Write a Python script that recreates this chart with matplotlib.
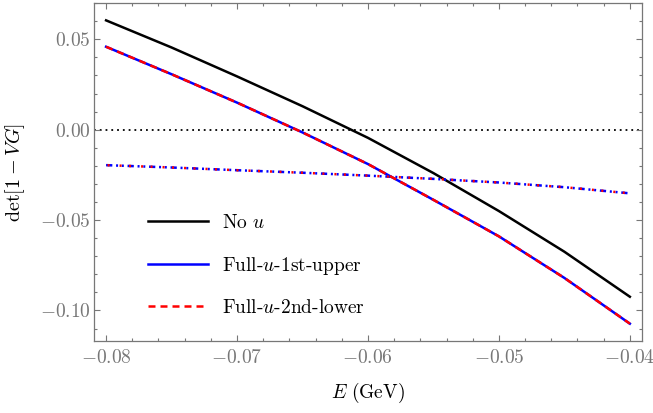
import matplotlib
matplotlib.use("Agg")
import matplotlib.pyplot as plt
from matplotlib.ticker import MultipleLocator, FuncFormatter

# ---- data ----
E = [-0.080, -0.075, -0.070, -0.065, -0.060, -0.055, -0.050, -0.045, -0.040]
no_u = [0.0605, 0.0455, 0.0295, 0.0130, -0.0045, -0.0240, -0.0450, -0.0675, -0.0924]
full_1st_upper = [0.0459, 0.0307, 0.0150, -0.0015, -0.0190, -0.0388, -0.0590, -0.0820, -0.1073]
full_2nd_lower = [0.0459, 0.0307, 0.0150, -0.0015, -0.0190, -0.0388, -0.0590, -0.0820, -0.1073]
other_blue = [-0.0196, -0.0209, -0.0224, -0.0238, -0.0254, -0.0272, -0.0292, -0.0318, -0.0352]
other_red = [-0.0196, -0.0209, -0.0224, -0.0238, -0.0254, -0.0272, -0.0292, -0.0318, -0.0352]
xticks = [-0.08, -0.07, -0.06, -0.05, -0.04]
yticks = [-0.10, -0.05, 0.00, 0.05]
labels = [r"No $u$", r"Full-$u$-1st-upper", r"Full-$u$-2nd-lower"]

plt.rcParams["mathtext.fontset"] = "cm"
plt.rcParams["font.family"] = ["cmr10", "DejaVu Serif"]
plt.rcParams["axes.unicode_minus"] = False

gray = "#777777"
fig = plt.figure(figsize=(6.53, 4.13), dpi=100)
ax = fig.add_axes([0.144, 0.1743, 0.839, 0.8184])

lw = 1.8
ax.axhline(0.0, color="black", lw=1.3, linestyle=(0, (1, 2.2)), zorder=1)
ax.plot(E, no_u, color="black", lw=lw, label=labels[0], zorder=3)
ax.plot(E, full_1st_upper, color="#0000ff", lw=lw, label=labels[1], zorder=3)
ax.plot(E, full_2nd_lower, color="#ff0000", lw=lw, linestyle=(0, (2.8, 2.0)),
        label=labels[2], zorder=4)
ax.plot(E, other_blue, color="#0000ff", lw=lw, linestyle=(0, (2.5, 1.5, 0.8, 1.5, 0.8, 1.5)), zorder=3)
ax.plot(E, other_red, color="#ff0000", lw=lw, linestyle=(3.2, (0.8, 3.0, 0.8, 4.0)), zorder=4)

ax.set_xlim(-0.08092, -0.03908)
ax.set_ylim(-0.1169, 0.0701)

ax.set_xticks(xticks)
ax.set_yticks(yticks)
ax.xaxis.set_minor_locator(MultipleLocator(0.002))
ax.yaxis.set_minor_locator(MultipleLocator(0.01))

def fmt(v, pos):
    if abs(v) < 1e-12:
        v = 0.0
    return f"${v:.2f}$"

ax.xaxis.set_major_formatter(FuncFormatter(fmt))
ax.yaxis.set_major_formatter(FuncFormatter(fmt))

ax.tick_params(which="both", direction="in", top=True, right=True, color=gray,
               labelcolor=gray, labelsize=14, width=0.8)
ax.tick_params(which="major", length=4.5)
ax.tick_params(axis="x", which="major", pad=6)
ax.tick_params(axis="y", which="major", pad=2.5)
ax.tick_params(which="minor", length=2.5)
for s in ax.spines.values():
    s.set_color(gray)
    s.set_linewidth(0.9)

ax.set_xlabel(r"$E\ (\mathrm{GeV})$", fontsize=14, labelpad=10)
ax.set_ylabel(r"$\mathrm{det}[1-VG]$", fontsize=14.5, labelpad=9)

leg = ax.legend(loc="center left", bbox_to_anchor=(0.0985, 0.223), frameon=False,
                fontsize=14, handlelength=3.1, handletextpad=0.7, labelspacing=1.15,
                borderpad=0, borderaxespad=0)

fig.savefig("out.png", dpi=100)
